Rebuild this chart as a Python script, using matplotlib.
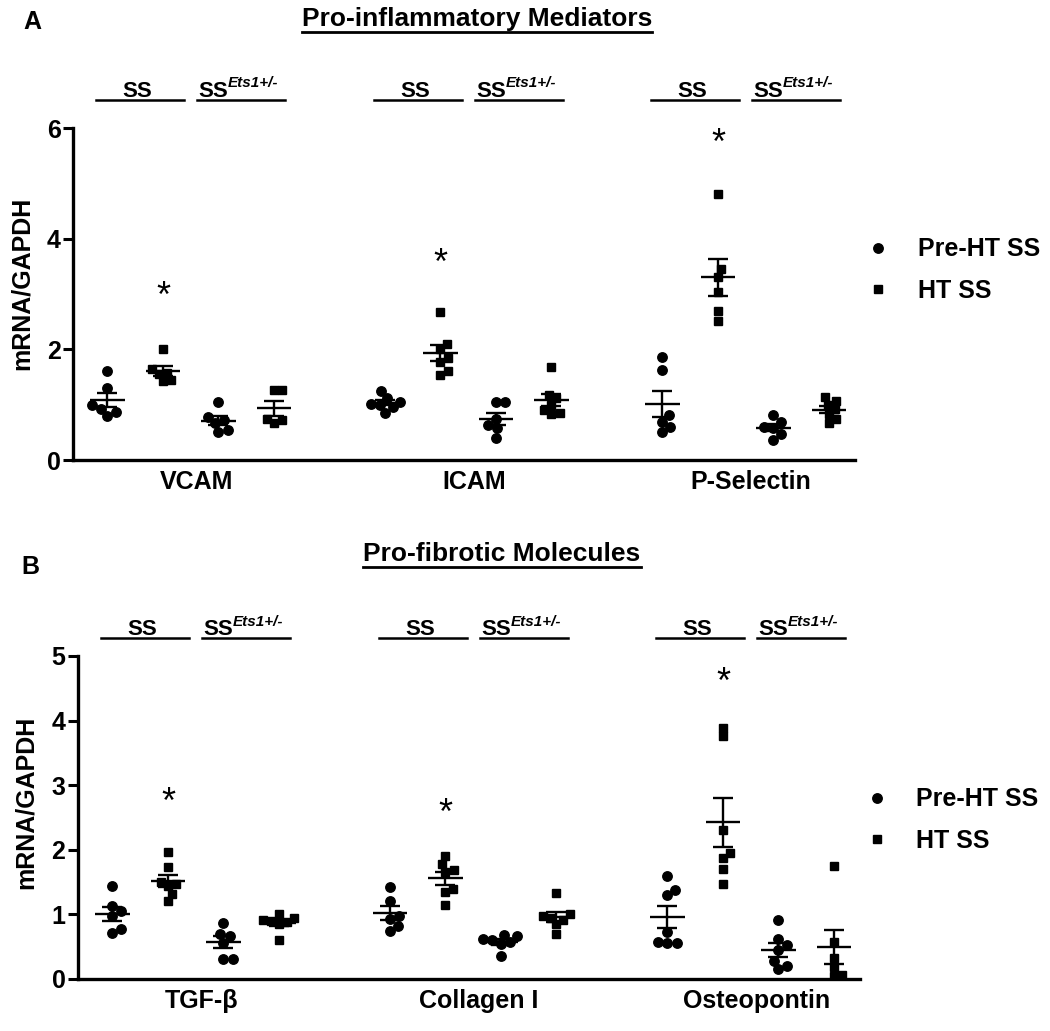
import numpy as np
import matplotlib
matplotlib.use("Agg")
import matplotlib.pyplot as plt
from matplotlib.lines import Line2D

plt.rcParams['font.family'] = ['Liberation Sans', 'DejaVu Sans']
plt.rcParams['font.weight'] = 'bold'

# ---- Panel A: pro-inflammatory mediators ----
a_genes = ['VCAM', 'ICAM', 'P-Selectin']
a_pre_ss = [[1.61, 1.31, 0.99, 0.93, 0.87, 0.80],
            [1.25, 1.12, 1.05, 1.02, 1.00, 0.95, 0.85],
            [1.86, 1.63, 0.81, 0.69, 0.59, 0.50]]
a_ht_ss = [[2.00, 1.65, 1.58, 1.55, 1.45, 1.42],
           [2.68, 2.10, 2.00, 1.85, 1.78, 1.60, 1.53],
           [4.81, 3.45, 3.31, 3.04, 2.70, 2.52]]
a_pre_ets = [[1.04, 0.78, 0.72, 0.67, 0.55, 0.51],
             [1.05, 1.05, 0.75, 0.63, 0.57, 0.40],
             [0.81, 0.69, 0.60, 0.58, 0.47, 0.36]]
a_ht_ets = [[1.27, 1.27, 0.75, 0.73, 0.67],
            [1.68, 1.18, 1.12, 1.00, 0.90, 0.85, 0.84],
            [1.14, 1.07, 1.00, 0.92, 0.83, 0.75, 0.66]]
a_stars = [2.93, 3.53, 5.70]

# ---- Panel B: pro-fibrotic molecules ----
b_genes = ['TGF-β', 'Collagen I', 'Osteopontin']
b_pre_ss = [[1.44, 1.13, 1.05, 0.98, 0.77, 0.71],
            [1.43, 1.21, 0.98, 0.93, 0.82, 0.74],
            [1.60, 1.38, 1.30, 0.72, 0.58, 0.56, 0.55]]
b_ht_ss = [[1.97, 1.73, 1.50, 1.47, 1.44, 1.32, 1.21],
           [1.91, 1.78, 1.69, 1.66, 1.39, 1.35, 1.14],
           [3.89, 3.76, 2.31, 1.95, 1.88, 1.71, 1.47]]
b_pre_ets = [[0.87, 0.70, 0.67, 0.56, 0.31, 0.31],
             [0.68, 0.67, 0.62, 0.60, 0.57, 0.54, 0.35],
             [0.92, 0.62, 0.52, 0.45, 0.28, 0.20, 0.15]]
b_ht_ets = [[1.00, 0.95, 0.92, 0.90, 0.88, 0.85, 0.60],
            [1.33, 1.00, 0.97, 0.95, 0.92, 0.85, 0.69],
            [1.75, 0.58, 0.33, 0.18, 0.06, 0.05]]
b_stars = [2.72, 2.54, 4.58]

legend_labels = ['Pre-HT SS', 'HT SS']
strain_labels = ['SS', 'SS']
strain_sup = ['', 'Ets1+/-']

fig = plt.figure(figsize=(10.5, 10.31), dpi=100)
FS = 18
MS_DOT, MS_SQ = 6.8, 6.0


def swarm_x(ax, x0, vals, ms):
    # simple beeswarm in pixel space so overlapping dots spread sideways
    vals = np.asarray(vals, float)
    p0 = ax.transData.transform((0, 0))
    p1 = ax.transData.transform((1, 1))
    sx, sy = p1[0] - p0[0], p1[1] - p0[1]
    d = ms * fig.dpi / 72.0
    ys = vals * sy
    placed = []
    offs = np.zeros(len(vals))
    for i in np.argsort(vals):
        y = ys[i]
        cands = [0.0]
        for px, py in placed:
            dy = y - py
            if abs(dy) < d:
                dx = np.sqrt(d * d - dy * dy)
                cands += [px + dx, px - dx]
        cands.sort(key=abs)
        for c in cands:
            if all((c - px) ** 2 + (y - py) ** 2 >= d * d - 1e-6 for px, py in placed):
                break
        placed.append((c, y))
        offs[i] = c
    return x0 + offs / sx


def panel(rect, genes, series, stars, ylim, yticks, letter, letter_xy,
          title, title_xy, leg_xy, ylab_xy, hdr_y):
    ax = fig.add_axes(rect)
    ax.set_xlim(-0.62, 13.47)
    ax.set_ylim(*ylim)
    for s in ['top', 'right']:
        ax.spines[s].set_visible(False)
    for s in ['left', 'bottom']:
        ax.spines[s].set_linewidth(2.4)
    ax.set_yticks(yticks)
    ax.tick_params(axis='y', length=7, width=2.2, pad=2, labelsize=FS)
    ax.set_xticks([g * 5 + 1.6 for g in range(len(genes))])
    ax.set_xticklabels(genes, fontsize=FS, fontweight='bold')
    ax.tick_params(axis='x', length=0, pad=7)
    for lab in ax.get_yticklabels():
        lab.set_fontweight('bold')
    ax.set_ylabel('mRNA/GAPDH', fontsize=FS, fontweight='bold')
    ax.yaxis.set_label_coords(*ylab_xy)

    markers = ['o', 's', 'o', 's']
    sizes = [MS_DOT, MS_SQ, MS_DOT, MS_SQ]
    for g in range(len(genes)):
        for k in range(4):
            vals = series[k][g]
            x0 = g * 5 + k
            xs = swarm_x(ax, x0, vals, sizes[k])
            ax.plot(xs, vals, ls='none', marker=markers[k], ms=sizes[k],
                    color='black', mec='black', zorder=3)
            m = np.mean(vals)
            se = np.std(vals, ddof=1) / np.sqrt(len(vals))
            ax.hlines(m, x0 - 0.31, x0 + 0.31, color='black', lw=1.7, zorder=4)
            ax.vlines(x0, m - se, m + se, color='black', lw=1.7, zorder=4)
            ax.hlines([m - se, m + se], x0 - 0.18, x0 + 0.18, color='black', lw=1.7, zorder=4)
        ax.text(g * 5 + 1, stars[g], '*', ha='center', va='center',
                fontsize=26, fontweight='normal')
        # strain headers
        spans = [(g * 5 - 0.2, g * 5 + 1.38), (g * 5 + 1.62, g * 5 + 3.2)]
        for j, (xa, xb) in enumerate(spans):
            ax.plot([xa, xb], [hdr_y, hdr_y], color='black', lw=1.8, clip_on=False)
            if strain_sup[j]:
                t = ax.annotate(strain_labels[j], xy=(xa + 0.02, hdr_y), xytext=(0, 2),
                                textcoords='offset points', ha='left', va='baseline',
                                fontsize=16, annotation_clip=False)
                ax.annotate(strain_sup[j], xy=(1.0, 0.55), xycoords=t, ha='left',
                            va='bottom', fontsize=11, style='italic',
                            annotation_clip=False)
            else:
                ax.annotate(strain_labels[j], xy=((xa + xb) / 2 - 0.05, hdr_y), xytext=(0, 2),
                            textcoords='offset points', ha='center', va='baseline',
                            fontsize=16, annotation_clip=False)

    handles = [Line2D([], [], ls='none', marker='o', ms=MS_DOT, color='black'),
               Line2D([], [], ls='none', marker='s', ms=MS_SQ, color='black')]
    fig.legend(handles, legend_labels, loc='center left', bbox_to_anchor=leg_xy,
               frameon=False, fontsize=FS, handlelength=1.0, handletextpad=1.1,
               labelspacing=0.7, borderpad=0, borderaxespad=0)

    fig.text(letter_xy[0], letter_xy[1], letter, fontsize=FS, ha='center', va='center')
    tt = fig.text(title_xy[0], title_xy[1], title, fontsize=19, ha='center', va='center')
    return ax, tt


W, H = 1050.0, 1031.0
axA, tA = panel([73 / W, 1 - 460 / H, 782 / W, 332 / H], a_genes,
                [a_pre_ss, a_ht_ss, a_pre_ets, a_ht_ets], a_stars, (0, 6), [0, 2, 4, 6],
                'A', (32 / W, 1 - 22 / H), 'Pro-inflammatory Mediators', (477 / W, 1 - 19 / H),
                (865 / W, 1 - 270 / H), (-0.05, 0.533), 6.51)
axB, tB = panel([78 / W, 1 - 979 / H, 782 / W, 323 / H], b_genes,
                [b_pre_ss, b_ht_ss, b_pre_ets, b_ht_ets], b_stars, (0, 5), [0, 1, 2, 3, 4, 5],
                'B', (30 / W, 1 - 567 / H), 'Pro-fibrotic Molecules', (502 / W, 1 - 554 / H),
                (864 / W, 1 - 820 / H), (-0.051, 0.548), 5.28)

# underline the panel titles
fig.canvas.draw()
r = fig.canvas.get_renderer()
inv = fig.transFigure.inverted()
for t in (tA, tB):
    bb = t.get_window_extent(r)
    (x0, y0), (x1, _) = inv.transform([(bb.x0, bb.y0 - 1), (bb.x1, bb.y0)])
    fig.add_artist(Line2D([x0, x1], [y0, y0], color='black', lw=2.0,
                          transform=fig.transFigure))

fig.savefig('out.png', dpi=100, facecolor='white')
